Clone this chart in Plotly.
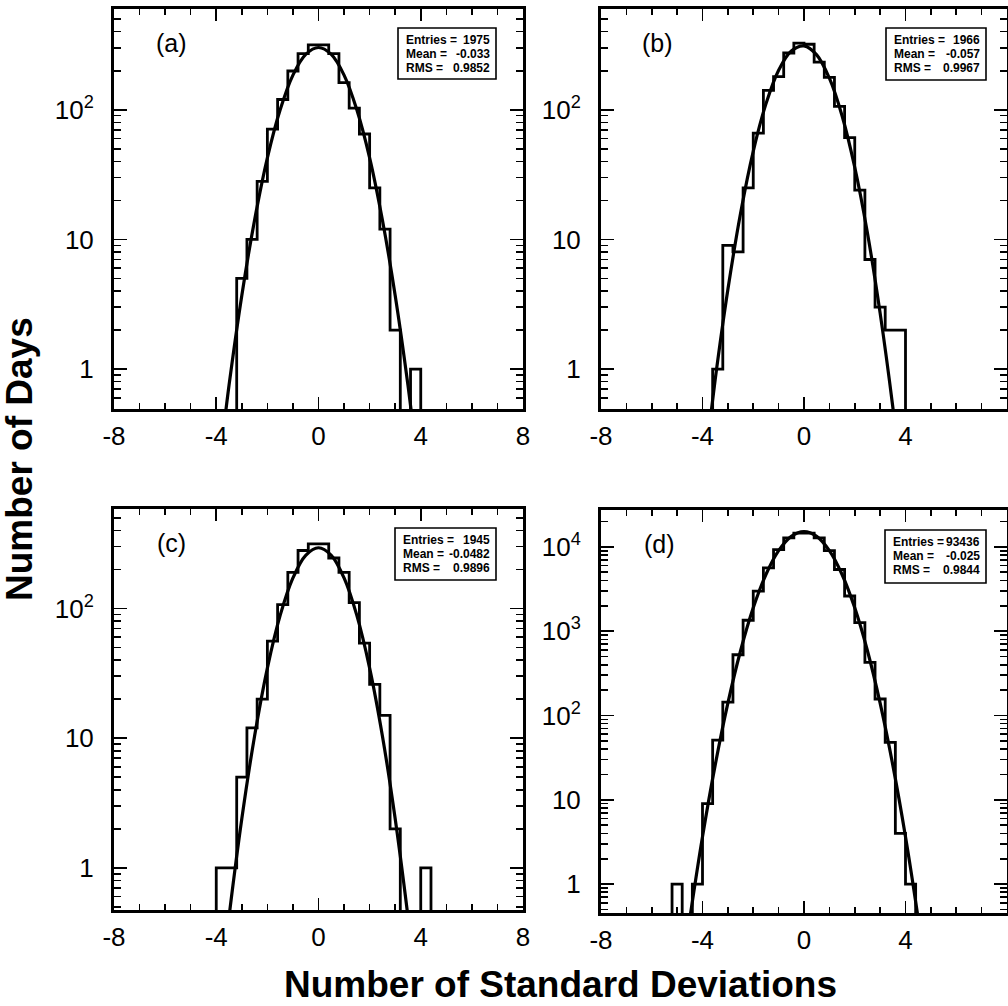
import plotly.graph_objects as go

# ---------------- data ----------------
BIN_WIDTH = 0.4

# (a)
a_first_edge = -3.2
a_counts = [5, 10, 28, 71, 120, 199, 271, 316, 316, 271, 162, 103, 65, 25, 12, 2, 0, 1]
a_fit_x = [-4.0, -3.8, -3.5, -3.0, -2.5, -2.0, -1.5, -1.0, -0.5, 0.0, 0.5, 1.0, 1.5, 2.0, 2.5, 3.0, 3.5, 3.8, 4.0]
a_fit_y = [0.13, 0.25, 0.75, 3.7, 14.1, 42.6, 100, 185, 267, 302, 267, 185, 100, 42.6, 14.1, 3.7, 0.75, 0.25, 0.13]
a_stats = [("Entries =", "1975"), ("Mean =", "-0.033"), ("RMS =", "0.9852")]

# (b)
b_first_edge = -3.6
b_counts = [1, 9, 8, 25, 66, 141, 180, 274, 326, 320, 233, 178, 106, 61, 24, 7, 3, 2, 2]
b_fit_x = [-4.0, -3.8, -3.5, -3.0, -2.5, -2.0, -1.5, -1.0, -0.5, 0.0, 0.5, 1.0, 1.5, 2.0, 2.5, 3.0, 3.5, 3.8, 4.0]
b_fit_y = [0.12, 0.28, 0.83, 4.1, 15.9, 47.8, 111, 202, 284, 311, 265, 175, 90, 36, 11.2, 2.7, 0.51, 0.16, 0.07]
b_stats = [("Entries =", "1966"), ("Mean =", "-0.057"), ("RMS =", "0.9967")]

# (c)
c_first_edge = -4.0
c_counts = [1, 1, 5, 12, 20, 56, 107, 190, 280, 315, 315, 245, 190, 111, 54, 26, 15, 2, 0, 0, 1]
c_fit_x = [-4.0, -3.8, -3.5, -3.0, -2.5, -2.0, -1.5, -1.0, -0.5, 0.0, 0.5, 1.0, 1.5, 2.0, 2.5, 3.0, 3.5, 3.8, 4.0]
c_fit_y = [0.06, 0.13, 0.42, 2.39, 10.4, 34.7, 88.4, 172, 257, 294, 257, 172, 88.4, 34.7, 10.4, 2.39, 0.42, 0.13, 0.06]
c_stats = [("Entries =", "1945"), ("Mean =", "-0.0482"), ("RMS =", "0.9896")]

# (d)
d_first_edge = -5.2
d_counts = [1, 0, 1, 9, 51, 144, 526, 1350, 2995, 5650, 9300, 12800, 14600, 14600,
            12800, 9060, 5400, 2615, 1266, 426, 157, 48, 4, 1]
d_fit_x = [-5.0, -4.5, -4.0, -3.5, -3.0, -2.5, -2.0, -1.5, -1.0, -0.5, 0.0, 0.5, 1.0, 1.5,
           2.0, 2.5, 3.0, 3.5, 4.0, 4.5, 5.0]
d_fit_y = [0.034, 0.39, 3.65, 25.8, 140, 586, 1893, 4710, 9030, 13350, 15200, 13350, 9030, 4710,
           1893, 586, 140, 25.8, 3.65, 0.39, 0.034]
d_stats = [("Entries =", "93436"), ("Mean =", "-0.025"), ("RMS =", "0.9844")]

panel_labels = ["(a)", "(b)", "(c)", "(d)"]
x_tick_vals = [-8, -4, 0, 4, 8]
x_tick_text = ["-8", "-4", "0", "4", "8"]
y_ticks_small = [1, 10, 100]
y_ticks_small_text = ["1", "10", "10<sup>2</sup>"]
y_ticks_big = [1, 10, 100, 1000, 10000]
y_ticks_big_text = ["1", "10", "10<sup>2</sup>", "10<sup>3</sup>", "10<sup>4</sup>"]

x_title = "Number of Standard Deviations"
y_title = "Number of Days"

# ---------------- layout geometry (pixels) ----------------
W, H = 1008, 1006
FONT = "Liberation Sans, Arial, Helvetica, sans-serif"
STAT_FONT = "Liberation Sans, Arial, sans-serif"
FLOOR = 1e-3


def px(x):
    return x / W


def py(y):
    return 1 - y / H


panels = [
    dict(counts=a_counts, first=a_first_edge, fx=a_fit_x, fy=a_fit_y, stats=a_stats,
         xd=(114, 523), yd=(9, 409), yr=(-0.308, 2.777), tv=y_ticks_small, tt=y_ticks_small_text,
         lab=(171, 43), box=(398, 28, 496, 79)),
    dict(counts=b_counts, first=b_first_edge, fx=b_fit_x, fy=b_fit_y, stats=b_stats,
         xd=(601, 1007), yd=(9, 409), yr=(-0.308, 2.777), tv=y_ticks_small, tt=y_ticks_small_text,
         lab=(657, 43), box=(886, 28, 986, 80)),
    dict(counts=c_counts, first=c_first_edge, fx=c_fit_x, fy=c_fit_y, stats=c_stats,
         xd=(114, 523), yd=(509, 910), yr=(-0.325, 2.767), tv=y_ticks_small, tt=y_ticks_small_text,
         lab=(171, 543), box=(395, 528, 496, 580)),
    dict(counts=d_counts, first=d_first_edge, fx=d_fit_x, fy=d_fit_y, stats=d_stats,
         xd=(601, 1007), yd=(510, 913), yr=(-0.343, 4.438), tv=y_ticks_big, tt=y_ticks_big_text,
         lab=(659, 544), box=(885, 530, 986, 583)),
]

fig = go.Figure()
annotations = []
shapes = []

x_minor = [v for v in range(-8, 9)]

for i, p in enumerate(panels):
    n = i + 1
    xa = "x" if n == 1 else f"x{n}"
    ya = "y" if n == 1 else f"y{n}"

    edges = [p["first"] + k * BIN_WIDTH for k in range(len(p["counts"]) + 1)]
    hx = [edges[0]] + edges
    hy = [FLOOR] + [c if c > 0 else FLOOR for c in p["counts"]] + [FLOOR]
    fig.add_trace(go.Scatter(x=hx, y=hy, mode="lines", line=dict(shape="hv", color="black", width=2.8),
                             xaxis=xa, yaxis=ya, showlegend=False, hoverinfo="skip"))
    fig.add_trace(go.Scatter(x=p["fx"], y=p["fy"], mode="lines",
                             line=dict(shape="spline", color="black", width=3.2),
                             xaxis=xa, yaxis=ya, showlegend=False, hoverinfo="skip"))

    top = 10 ** p["yr"][1]
    minor_vals = []
    dec = 0.1
    while dec < top:
        for m in range(2, 10):
            v = m * dec
            if 10 ** p["yr"][0] <= v <= top and v not in p["tv"]:
                minor_vals.append(v)
        dec *= 10
    minor_vals = [round(v, 6) for v in minor_vals]

    xkey = "xaxis" if n == 1 else f"xaxis{n}"
    ykey = "yaxis" if n == 1 else f"yaxis{n}"
    fig.layout[xkey] = dict(
        domain=[px(p["xd"][0]), px(p["xd"][1])], range=[-8, 8], anchor=ya, automargin=False,
        tickmode="array", tickvals=x_tick_vals, ticktext=x_tick_text,
        ticks="inside", ticklen=12, tickwidth=1.6, tickcolor="black",
        minor=dict(tickmode="array", tickvals=x_minor, ticks="inside", ticklen=6,
                   tickwidth=1.6, tickcolor="black", showgrid=False),
        showline=True, linewidth=3, linecolor="black", mirror="ticks",
        showgrid=False, zeroline=False, ticklabelstandoff=2,
        tickfont=dict(family=FONT, size=26, color="black"),
    )
    fig.layout[ykey] = dict(
        domain=[py(p["yd"][1]), py(p["yd"][0])], type="log", range=list(p["yr"]), anchor=xa,
        automargin=False,
        tickmode="array", tickvals=p["tv"], ticktext=p["tt"],
        ticks="inside", ticklen=13, tickwidth=1.6, tickcolor="black",
        minor=dict(tickmode="array", tickvals=minor_vals, ticks="inside", ticklen=7,
                   tickwidth=1.6, tickcolor="black", showgrid=False),
        showline=True, linewidth=3, linecolor="black", mirror="ticks",
        showgrid=False, zeroline=False, ticklabelstandoff=12,
        tickfont=dict(family=FONT, size=26, color="black"),
    )

    annotations.append(dict(xref="paper", yref="paper", x=px(p["lab"][0]), y=py(p["lab"][1]),
                            text=panel_labels[i], showarrow=False, xanchor="center", yanchor="middle",
                            font=dict(family=FONT, size=25, color="black")))

    bx0, by0, bx1, by1 = p["box"]
    shapes.append(dict(type="rect", xref="paper", yref="paper", x0=px(bx0), x1=px(bx1),
                       y0=py(by1), y1=py(by0), line=dict(color="black", width=1.6),
                       fillcolor="white", layer="above"))
    for j, (lab, val) in enumerate(p["stats"]):
        yy = py(by0 + 12 + 14 * j)
        annotations.append(dict(xref="paper", yref="paper", x=px(bx0 + 6), y=yy, text=f"<b>{lab}</b>",
                                showarrow=False, xanchor="left", yanchor="middle",
                                font=dict(family=STAT_FONT, size=12, color="black")))
        annotations.append(dict(xref="paper", yref="paper", x=px(bx1 - 4), y=yy, text=f"<b>{val}</b>",
                                showarrow=False, xanchor="right", yanchor="middle",
                                font=dict(family=STAT_FONT, size=12, color="black")))

annotations.append(dict(xref="paper", yref="paper", x=px(19), y=py(459), text=f"<b>{y_title}</b>",
                        textangle=-90, showarrow=False, xanchor="center", yanchor="middle",
                        font=dict(family=FONT, size=37, color="black")))
annotations.append(dict(xref="paper", yref="paper", x=px(560), y=py(984), text=f"<b>{x_title}</b>",
                        showarrow=False, xanchor="center", yanchor="middle",
                        font=dict(family=FONT, size=37, color="black")))

fig.update_layout(
    width=W, height=H, margin=dict(l=0, r=0, t=0, b=0, autoexpand=False),
    paper_bgcolor="white", plot_bgcolor="white",
    annotations=annotations, shapes=shapes, showlegend=False,
)

fig.write_html("out.html", config={"displayModeBar": False, "staticPlot": True},
               post_script="document.body.style.margin='0px';document.body.style.overflow='hidden';")
